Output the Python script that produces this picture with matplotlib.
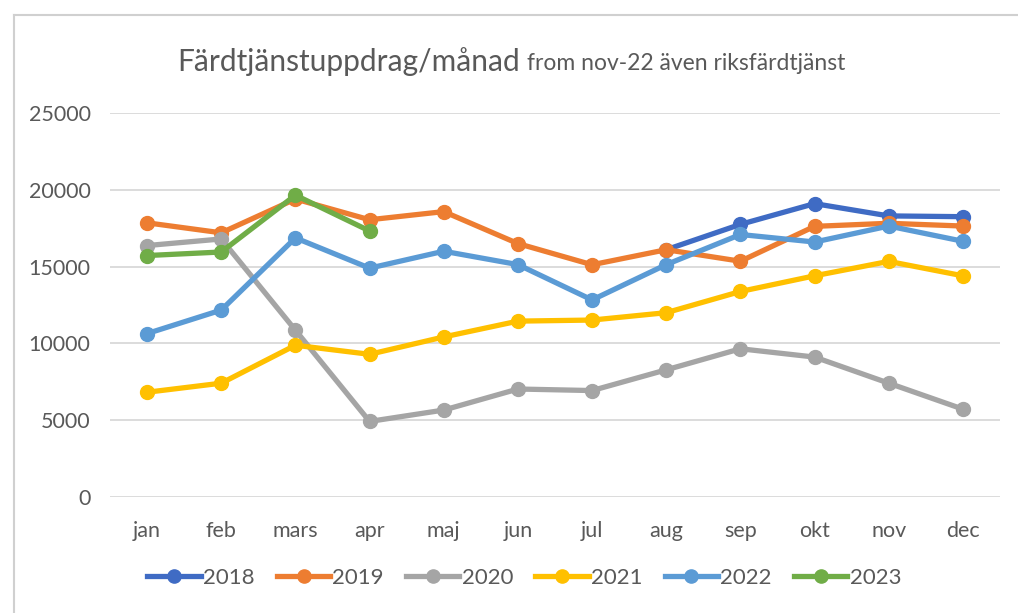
import numpy as np
import matplotlib
matplotlib.use("Agg")
from matplotlib import pyplot as plt
from matplotlib.lines import Line2D

plt.rcParams['font.family'] = ['Lato', 'DejaVu Sans']

months = ['jan', 'feb', 'mars', 'apr', 'maj', 'jun', 'jul', 'aug', 'sep', 'okt', 'nov', 'dec']
nan = np.nan
y2018 = [nan, nan, nan, nan, nan, nan, nan, 16100, 17750, 19100, 18300, 18250]
y2019 = [17850, 17200, 19400, 18050, 18580, 16500, 15120, 16100, 15350, 17620, 17820, 17640]
y2020 = [16370, 16800, 10860, 4920, 5660, 7030, 6930, 8280, 9650, 9110, 7410, 5720]
y2021 = [6820, 7410, 9880, 9290, 10420, 11450, 11520, 12000, 13380, 14400, 15340, 14400]
y2022 = [10640, 12170, 16870, 14900, 16000, 15130, 12830, 15130, 17090, 16600, 17640, 16650]
y2023 = [15720, 15950, 19650, 17320, nan, nan, nan, nan, nan, nan, nan, nan]

years = ['2018', '2019', '2020', '2021', '2022', '2023']
series = [y2018, y2019, y2020, y2021, y2022, y2023]
colors = ['#3F6BC4', '#ED7D31', '#A5A5A5', '#FFC000', '#5B9BD5', '#70AD47']

fig = plt.figure(figsize=(10.18, 6.13), dpi=100)
ax = fig.add_axes([110 / 1018, 1 - 497 / 613, 890 / 1018, 384 / 613])

x = np.arange(len(months))
for name, vals, col in zip(years, series, colors):
    ax.plot(x, vals, color=col, lw=3.8, marker='o', markersize=10, label=name,
            solid_capstyle='round')

ax.set_xlim(-0.5, 11.5)
ax.set_ylim(0, 25000)
ax.set_yticks(range(0, 25001, 5000))
ax.set_xticks(x)
ax.set_xticklabels(months)
ax.grid(axis='y', color='#d9d9d9', lw=1.3)
ax.set_axisbelow(True)
for s in ax.spines.values():
    s.set_visible(False)
ax.tick_params(axis='y', length=0, labelsize=15.5, colors='#595959', pad=14)
ax.tick_params(axis='x', length=0, labelsize=15.5, colors='#595959', pad=17)

# chart border (top and left edges are visible)
fig.add_artist(Line2D([14 / 1018, 1.0], [1 - 15 / 613, 1 - 15 / 613], color='#d0d0d0', lw=1.5))
fig.add_artist(Line2D([14 / 1018, 14 / 1018], [0, 1 - 15 / 613], color='#d0d0d0', lw=1.5))

# title: two sizes
t1 = fig.text(177 / 1018, 1 - 62 / 613, 'Färdtjänstuppdrag/månad', fontsize=21.5,
              color='#595959', va='center', ha='left')
fig.canvas.draw()
bb = t1.get_window_extent()
fig.text(bb.x1 / 1018 + 0.007, 1 - 64 / 613, 'from nov-22 även riksfärdtjänst', fontsize=16.5,
         color='#595959', va='center', ha='left')

handles = [Line2D([], [], color=c, lw=3.8, marker='o', markersize=9.5) for c in colors]
fig.legend(handles, years, loc='center', bbox_to_anchor=(0.515, 1 - 578 / 613), ncol=6,
           frameon=False, fontsize=16, labelcolor='#595959', handlelength=2.4,
           handletextpad=0.1, columnspacing=1.0)

fig.savefig('out.png', dpi=100)
